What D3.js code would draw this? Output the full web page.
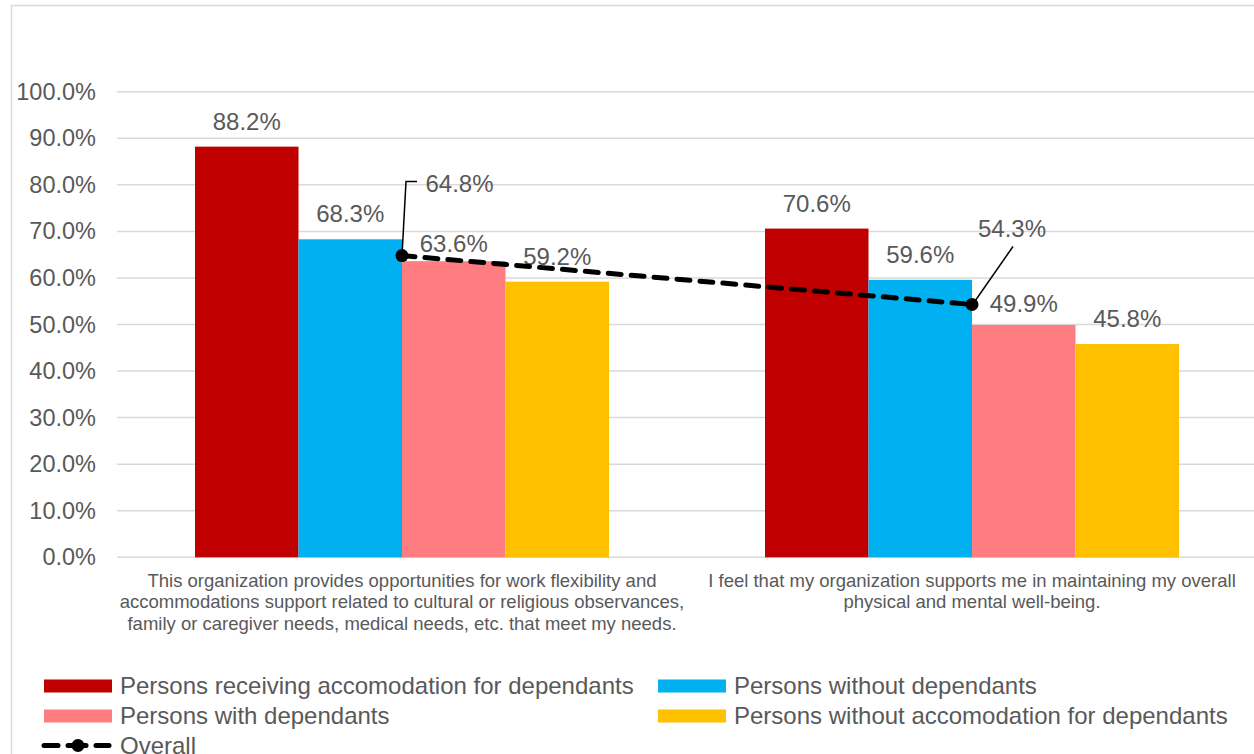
<!DOCTYPE html>
<html>
<head>
<meta charset="utf-8">
<script src="https://cdn.jsdelivr.net/npm/d3@7"></script>
<style>
  html, body { margin: 0; padding: 0; background: #fff; }
  svg { display: block; font-family: "Liberation Sans", Arial, sans-serif; }
</style>
</head>
<body>
<svg id="chart" width="1254" height="754"></svg>
<script>
// ---- data ----
const categories = [
  "This organization provides opportunities for work flexibility and accommodations support related to cultural or religious observances, family or caregiver needs, medical needs, etc. that meet my needs.",
  "I feel that my organization supports me in maintaining my overall physical and mental well-being."
];
const categoryLines = [
  ["This organization provides opportunities for work flexibility and",
   "accommodations support related to cultural or religious observances,",
   "family or caregiver needs, medical needs, etc. that meet my needs."],
  ["I feel that my organization supports me in maintaining my overall",
   "physical and mental well-being."]
];
const seriesNames = [
  "Persons receiving accomodation for dependants",
  "Persons without dependants",
  "Persons with dependants",
  "Persons without accomodation for dependants"
];
const receivingAccom = [88.2, 70.6];
const withoutDependants = [68.3, 59.6];
const withDependants = [63.6, 49.9];
const withoutAccom = [59.2, 45.8];
const overall = [64.8, 54.3];
const overallName = "Overall";
const yTicks = [0, 10, 20, 30, 40, 50, 60, 70, 80, 90, 100];

const seriesValues = [receivingAccom, withoutDependants, withDependants, withoutAccom];
const colors = ["#C00000", "#00B0F0", "#FF7C80", "#FFC000"];

// ---- layout ----
const svg = d3.select("#chart");
const textColor = "#595959";
const gridColor = "#D9D9D9";
const plotLeft = 117, plotRight = 1257, plotTop = 91.7, plotBottom = 557.3;

// chart border
svg.append("rect").attr("x", 11.5).attr("y", 5.5).attr("width", 1300).attr("height", 800)
  .attr("fill", "none").attr("stroke", gridColor).attr("stroke-width", 1.5);

const y = d3.scaleLinear().domain([0, 100]).range([plotBottom, plotTop]);
const x0 = d3.scaleBand().domain(d3.range(categories.length)).range([plotLeft, plotRight])
  .paddingInner(0.2737).paddingOuter(0.13685);
const x1 = d3.scaleBand().domain(d3.range(seriesNames.length)).range([0, x0.bandwidth()]).padding(0);

// gridlines
svg.append("g").selectAll("line").data(yTicks).join("line")
  .attr("x1", plotLeft).attr("x2", plotRight)
  .attr("y1", d => y(d)).attr("y2", d => y(d))
  .attr("stroke", gridColor).attr("stroke-width", 1.5);

// y axis labels
const yAxis = d3.axisLeft(y).tickValues(yTicks).tickSize(0).tickPadding(21)
  .tickFormat(d => d.toFixed(1) + "%");
const gy = svg.append("g").attr("transform", `translate(${plotLeft},0)`).call(yAxis);
gy.select(".domain").remove();
gy.selectAll("text").attr("fill", textColor).style("font-size", "23.5px")
  .style("font-family", '"Liberation Sans", Arial, sans-serif');

// bars
const barData = [];
seriesValues.forEach((vals, s) => vals.forEach((v, c) => barData.push({ s, c, v })));
svg.append("g").selectAll("rect").data(barData).join("rect")
  .attr("x", d => x0(d.c) + x1(d.s))
  .attr("y", d => y(d.v))
  .attr("width", x1.bandwidth())
  .attr("height", d => y(0) - y(d.v))
  .attr("fill", d => colors[d.s]);

// bar labels (small nudges where the source moved labels off the line)
const nudge = { "2-0": 8, "2-1": 4 };
svg.append("g").selectAll("text").data(barData).join("text")
  .attr("x", d => x0(d.c) + x1(d.s) + x1.bandwidth() / 2)
  .attr("y", d => y(d.v) - 17 + (nudge[d.s + "-" + d.c] || 0))
  .attr("text-anchor", "middle")
  .attr("fill", textColor).style("font-size", "24px")
  .text(d => d.v.toFixed(1) + "%");

// overall line
const cx = i => x0(i) + x0.bandwidth() / 2;
const line = d3.line().x((d, i) => cx(i)).y(d => y(d));
svg.append("path").datum(overall).attr("d", line)
  .attr("fill", "none").attr("stroke", "#000").attr("stroke-width", 5)
  .attr("stroke-dasharray", "13,10").attr("stroke-linecap", "round");
svg.append("g").selectAll("circle").data(overall).join("circle")
  .attr("cx", (d, i) => cx(i)).attr("cy", d => y(d)).attr("r", 6.5).attr("fill", "#000");

// overall labels with leader lines
const ovl = svg.append("g");
{
  const px = cx(0), py = y(overall[0]);
  ovl.append("path")
    .attr("d", `M${px},${py} L${px + 4},${py - 74} L${px + 15},${py - 74}`)
    .attr("fill", "none").attr("stroke", "#000").attr("stroke-width", 1.5);
  ovl.append("text").attr("x", px + 23.5).attr("y", py - 72).attr("dy", "0.35em")
    .attr("fill", textColor).style("font-size", "24px").text(overall[0].toFixed(1) + "%");
}
{
  const px = cx(1), py = y(overall[1]);
  ovl.append("line").attr("x1", px + 2).attr("y1", py - 2).attr("x2", px + 41).attr("y2", py - 58)
    .attr("stroke", "#000").attr("stroke-width", 1.5);
  ovl.append("text").attr("x", px + 40).attr("y", py - 75.5).attr("dy", "0.35em")
    .attr("text-anchor", "middle")
    .attr("fill", textColor).style("font-size", "24px").text(overall[1].toFixed(1) + "%");
}

// category labels
const cat = svg.append("g");
categoryLines.forEach((lines, c) => {
  const t = cat.append("text").attr("text-anchor", "middle").attr("fill", textColor)
    .style("font-size", "18.5px");
  lines.forEach((ln, k) => {
    t.append("tspan").attr("x", cx(c)).attr("y", 587 + k * 21.3).text(ln);
  });
});

// legend
const legend = svg.append("g");
const legItems = [
  { name: seriesNames[0], color: colors[0], x: 44, y: 686 },
  { name: seriesNames[1], color: colors[1], x: 658, y: 686 },
  { name: seriesNames[2], color: colors[2], x: 44, y: 716 },
  { name: seriesNames[3], color: colors[3], x: 658, y: 716 }
];
legItems.forEach(it => {
  legend.append("rect").attr("x", it.x).attr("y", it.y - 6.5).attr("width", 68).attr("height", 13)
    .attr("fill", it.color);
  legend.append("text").attr("x", it.x + 76).attr("y", it.y).attr("dy", "0.35em")
    .attr("fill", textColor).style("font-size", "24px").text(it.name);
});
{
  const ly = 745.5;
  legend.append("line").attr("x1", 44).attr("x2", 58).attr("y1", ly).attr("y2", ly)
    .attr("stroke", "#000").attr("stroke-width", 5).attr("stroke-linecap", "round");
  legend.append("line").attr("x1", 96).attr("x2", 109).attr("y1", ly).attr("y2", ly)
    .attr("stroke", "#000").attr("stroke-width", 5).attr("stroke-linecap", "round");
  legend.append("line").attr("x1", 68).attr("x2", 86).attr("y1", ly).attr("y2", ly)
    .attr("stroke", "#000").attr("stroke-width", 5).attr("stroke-linecap", "round");
  legend.append("circle").attr("cx", 78).attr("cy", ly).attr("r", 6.5).attr("fill", "#000");
  legend.append("text").attr("x", 120).attr("y", ly).attr("dy", "0.35em")
    .attr("fill", textColor).style("font-size", "24px").text(overallName);
}
</script>
</body>
</html>
